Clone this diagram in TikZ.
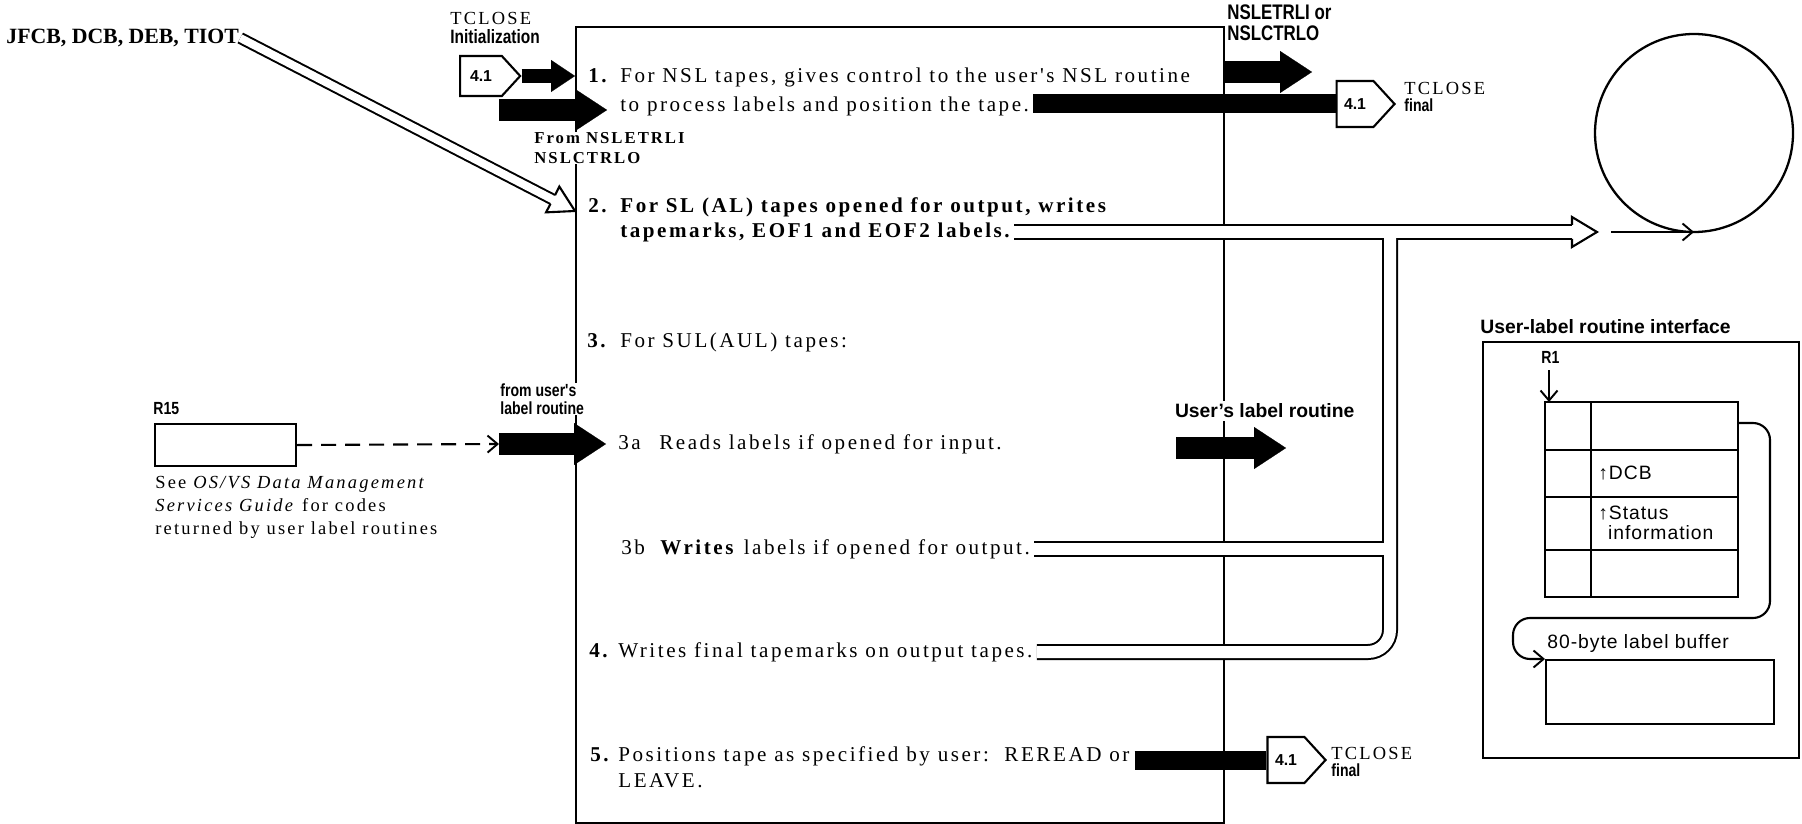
\documentclass[tikz,border=0pt]{standalone}
\usepackage{fontspec}
\setmainfont{Liberation Serif}
\setsansfont{Liberation Sans}
\newfontfamily\itemfont[LetterSpace=12]{Liberation Serif}
\newfontfamily\condfont[FakeStretch=0.8]{Liberation Sans}
\newfontfamily\widesans[LetterSpace=5]{Liberation Sans}
\usetikzlibrary{arrows, arrows.meta}
\usetikzlibrary{calc}
\usetikzlibrary{shapes.symbols}

\tikzset{
  item/.style={anchor=west, inner sep=0pt, text height=3mm, text depth=0.8mm, font=\itemfont\fontsize{12}{14}\selectfont},
  num/.style={item, font=\itemfont\bfseries\fontsize{12}{14}\selectfont},
  lbl/.style={anchor=west, inner sep=0.6pt, align=left, font=\condfont\bfseries\fontsize{10}{10}\selectfont},
  biglbl/.style={lbl, font=\sffamily\bfseries\fontsize{11}{11}\selectfont},
  pent/.style={draw, line width=1.2pt, fill=white, signal, signal to=east, signal pointer angle=95, minimum width=11.6mm, minimum height=9.2mm, inner sep=0pt, font=\sffamily\bfseries\fontsize{9}{10}\selectfont},
  fat/.style={line width=4.4mm, -{Triangle[length=6.4mm, width=8.4mm, line width=0.1pt]}},
  slim/.style={line width=2.8mm, -{Triangle[length=4.8mm, width=6.4mm, line width=0.1pt]}},
  bar/.style={line width=3.8mm},
  frame/.style={draw, line width=1.3pt, inner sep=0pt, anchor=north west},
  thin/.style={line width=1.2pt},
  barb/.style={-{Straight Barb[length=2mm, width=3.4mm, line width=1.1pt]}},
  pipe/.style={line width=3.2mm, shorten <=0.8mm},
  pipein/.style={pipe, white, line width=2.4mm},
  tube/.style={line width=2.4mm},
  tubein/.style={white, line width=1.6mm},
  cell/.style={anchor=west, inner sep=0pt, align=left, font=\widesans\fontsize{11}{11.5}\selectfont},
}

\begin{document}
\begin{tikzpicture}[x=0.2mm, y=-0.2mm]
    \useasboundingbox (0,0) rectangle (1802,824);

    \node[frame, minimum width=129.6mm, minimum height=159.2mm] (proc) at (575,26) {};

    \node[num] (n1) at (588,77) {1.};
    \node[item] (it1a) at (620,77) {For NSL tapes, gives control to the user's NSL routine};
    \node[item] (it1b) at (620,106) {to process labels and position the tape.};
    \node[num] (n2) at (588,207) {2.};
    \node[num] (it2a) at (620,207) {For SL (AL) tapes opened for output, writes};
    \node[num] (it2b) at (620,232) {tapemarks, EOF1 and EOF2 labels.};
    \node[num] (n3) at (587,342) {3.};
    \node[item] (it3) at (620,342) {For SUL(AUL) tapes:};
    \node[item] (n3a) at (618,444) {3a};
    \node[item] (it3a) at (659,444) {Reads labels if opened for input.};
    \node[item] (n3b) at (621,549) {3b};
    \node[item] (it3b) at (660,549) {\textbf{Writes} labels if opened for output.};
    \node[num] (n4) at (589,652) {4.};
    \node[item] (it4) at (618,652) {Writes final tapemarks on output tapes.};
    \node[num] (n5) at (590,756) {5.};
    \node[item] (it5a) at (618,756) {Positions tape as specified by user:\ \ REREAD or};
    \node[item] (it5b) at (618,782) {LEAVE.};

    \node[lbl, font=\rmfamily\bfseries\fontsize{12.4}{13}\selectfont] (jfcb) at (5,38) {JFCB, DCB, DEB, TIOT};
    \node[lbl, font=\condfont\bfseries\fontsize{11}{11}\selectfont] (tinit) at (449,28) {{\itemfont\mdseries\fontsize{10.5}{11}\selectfont TCLOSE}\\Initialization};
    \node[pent, minimum width=12mm, minimum height=8mm] (pin) at (481,76) {4.1};
    \draw[slim] (pin.east) -- (pin.east -| proc.west);
    \coordinate (nsl) at (499,110);
    \draw[fat] (nsl) -- (nsl -| n1.east);
    \node[lbl, fill=white, font=\itemfont\bfseries\fontsize{9.5}{11}\selectfont] (from) at (533,148) {From NSLETRLI\\NSLCTRLO};

    \coordinate (t2) at ($(proc.west |- n2.west)+(0,4)$);
    \draw[tube] (jfcb.east) -- ($(t2)!4.6mm!(jfcb.east)$);
    \draw[tubein] (jfcb.east) -- ($(t2)!4.6mm!(jfcb.east)$);
    \draw[thin, fill=white] ($(t2)!5.1mm!11:(jfcb.east)$) -- ($(t2)!5.8mm!30:(jfcb.east)$) -- (t2) -- ($(t2)!5.8mm!-30:(jfcb.east)$) -- ($(t2)!5.1mm!-11:(jfcb.east)$);

    \node[lbl] (r15l) at (152,409) {R15};
    \node[frame, thin, minimum width=28.2mm, minimum height=8.4mm] (r15) at (154,423) {};
    \node[anchor=north west, inner sep=0pt, align=left, font=\itemfont\fontsize{10.5}{13}\selectfont] (see) at (155,476) {See \textit{OS/VS Data Management}\\\textit{Services Guide} for codes\\returned by user label routines};
    \coordinate (ulr) at (499,444);
    \coordinate (ulrt) at (606,444);
    \draw[thin, dash pattern=on 3mm off 1.8mm, barb] (r15.east) -- (ulr);
    \draw[fat] (ulr) -- (ulrt);
    \node[lbl, fill=white] (fulr) at (499,399) {from user's\\label routine};

    \node[lbl, font=\condfont\bfseries\fontsize{12}{12}\selectfont] (nslo) at (1226,23) {NSLETRLI or\\NSLCTRLO};
    \coordinate (no) at (1312,72);
    \draw[fat] (no -| proc.east) -- (no);
    \node[pent] (pout1) at (1355,104) {4.1};
    \draw[bar, shorten <=0.8mm] (it1b.east |- pout1.west) -- (pout1.west);
    \node[lbl] (tcf1) at (1403,97) {{\itemfont\mdseries\fontsize{10.5}{11}\selectfont TCLOSE}\\final};

    \node[biglbl, fill=white, inner sep=1.5pt] (ulrout) at (1172,411) {User's label routine};
    \coordinate (ur1) at (1176,448);
    \coordinate (ur2) at (1286,448);
    \draw[fat] (ur1) -- (ur2);

    \node[pent] (pout2) at (1286,760) {4.1};
    \draw[bar, shorten <=1mm] (it5a.east |- pout2.west) -- (pout2.west);
    \node[lbl] (tcf2) at (1330,762) {{\itemfont\mdseries\fontsize{10.5}{11}\selectfont TCLOSE}\\final};

    \node[draw, circle, line width=1.3pt, minimum size=39.6mm, inner sep=0pt] (reel) at (1694,133) {};
    \coordinate (hd) at (1597,232);
    \coordinate (jn) at (1390,232);
    \draw[pipe] (it2b.east |- hd) -- ([xshift=-4mm]hd);
    \draw[pipe] (it4.east) [rounded corners=4.4mm] -- (it4.east -| jn) -- (jn);
    \draw[pipe] (it3b.east) -- (it3b.east -| jn);
    \draw[pipein] (it2b.east |- hd) -- ([xshift=-4mm]hd);
    \draw[pipein] (it4.east) [rounded corners=4.4mm] -- (it4.east -| jn) -- (jn);
    \draw[pipein] (it3b.east) -- (it3b.east -| jn);
    \draw[thin, fill=white] ([shift={(-25,-7)}]hd) -- ([shift={(-25,-15)}]hd) -- (hd) -- ([shift={(-25,15)}]hd) -- ([shift={(-25,7)}]hd);
    \draw[thin, barb] ([xshift=2.8mm]hd) -- (hd -| reel.south);

    \node[biglbl] (ulri) at (1479,327) {User-label routine interface};
    \node[frame, minimum width=63.2mm, minimum height=83.2mm] (ifc) at (1482,341) {};
    \node[lbl] (r1) at (1540,357) {R1};
    \coordinate (tbl) at (1545,402);
    \coordinate (r1a) at (1549,370);
    \draw[thin, barb] (r1a) -- (r1a |- tbl);
    \draw[thin] (tbl) rectangle (1738,597);
    \draw[thin] (1591,402) -- (1591,597);
    \foreach \y in {450,497,550}
        \draw[thin] (1545,\y) -- (1738,\y);
    \node[cell] (dcb) at (1598,473) {↑DCB};
    \node[cell] (stat) at (1598,523) {↑Status\\\hphantom{↑}information};

    \coordinate (tr) at (1738,423);
    \node[frame, thin, minimum width=45.6mm, minimum height=12.8mm] (buf) at (1545,659) {};
    \node[cell] (bufl) at (1547,643) {80-byte label buffer};
    \draw[thin, rounded corners=3.4mm, barb] (tr) -- (1770,423) -- (1770,618) -- (1513,618) -- (1513,659) -- (buf.north west);
  \end{tikzpicture}
\end{document}
